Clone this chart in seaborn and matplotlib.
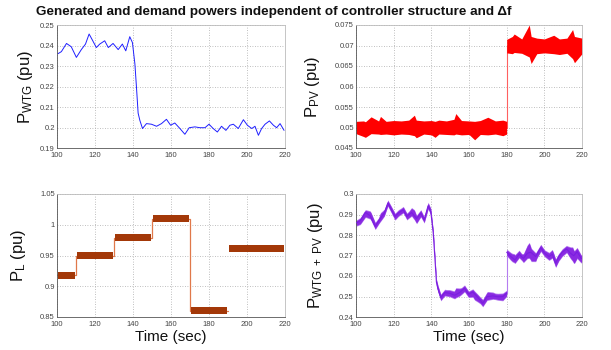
import numpy as np
import pandas as pd
import matplotlib
matplotlib.use("Agg")
import matplotlib.pyplot as plt
from matplotlib.ticker import FuncFormatter, MultipleLocator
import seaborn as sns

# ---------------- data ----------------
wtg_time = [100.5, 102.3, 105.0, 107.5, 110.2, 112.8, 115.0, 116.9, 118.6, 120.7,
            122.5, 125.1, 127.0, 129.5, 132.2, 134.4, 136.2, 138.3, 139.7, 141.0,
            141.8, 142.7, 143.6, 145.0, 147.1, 149.7, 152.4, 155.0, 157.6, 159.8,
            162.0, 164.7, 167.3, 169.6, 172.6, 175.2, 177.9, 180.0, 182.2, 184.4,
            186.6, 188.9, 191.0, 192.8, 195.4, 198.1, 200.2, 202.5, 204.2, 206.0,
            207.7, 209.5, 211.8, 213.9, 215.6, 217.4, 219.5]
wtg_power = [0.2360, 0.2370, 0.2410, 0.2394, 0.2342, 0.2380, 0.2407, 0.2456, 0.2427, 0.2390,
             0.2407, 0.2423, 0.2390, 0.2410, 0.2380, 0.2407, 0.2374, 0.2443, 0.2414, 0.2310,
             0.2200, 0.2070, 0.2035, 0.1995, 0.2019, 0.2016, 0.2006, 0.2019, 0.2040, 0.2011,
             0.2022, 0.1995, 0.1967, 0.1999, 0.2003, 0.1999, 0.1999, 0.2016, 0.1995, 0.1978,
             0.2006, 0.1986, 0.2011, 0.2016, 0.1995, 0.2038, 0.2011, 0.1995, 0.2006, 0.1962,
             0.1995, 0.2016, 0.2032, 0.2011, 0.1999, 0.2019, 0.1986]

# PV: two levels, noisy band envelopes
pv_low_time = [100, 104, 105, 108, 112, 113, 116, 120, 124, 128, 131, 132, 136, 140,
               142, 144, 148, 152, 153, 156, 160, 163, 166, 170, 174, 178, 180]
pv_low_hi = [0.0515, 0.0516, 0.0514, 0.0526, 0.0516, 0.0527, 0.0515, 0.0517, 0.0516, 0.0518,
             0.0530, 0.0518, 0.0516, 0.0517, 0.0515, 0.0518, 0.0516, 0.0520, 0.0534, 0.0517,
             0.0516, 0.0515, 0.0517, 0.0525, 0.0516, 0.0518, 0.0515]
pv_low_lo = [0.0485, 0.0478, 0.0476, 0.0485, 0.0484, 0.0483, 0.0484, 0.0482, 0.0484, 0.0483,
             0.0480, 0.0475, 0.0484, 0.0482, 0.0476, 0.0484, 0.0483, 0.0482, 0.0484, 0.0482,
             0.0483, 0.0470, 0.0483, 0.0482, 0.0484, 0.0480, 0.0484]
pv_high_time = [180, 183, 184, 188, 192, 193, 196, 200, 205, 208, 212, 215, 216, 220]
pv_high_hi = [0.0715, 0.0722, 0.0728, 0.0716, 0.0750, 0.0722, 0.0718, 0.0716, 0.0725, 0.0716,
              0.0718, 0.0739, 0.0722, 0.0718]
pv_high_lo = [0.0682, 0.0680, 0.0683, 0.0681, 0.0672, 0.0656, 0.0680, 0.0682, 0.0680, 0.0678,
              0.0681, 0.0668, 0.0658, 0.0680]
pv_level_time = [100, 180, 180, 220]
pv_level = [0.050, 0.050, 0.070, 0.070]

# Load steps
load_edges = [100, 110, 130, 150, 170, 190, 220]
load_levels = [0.918, 0.950, 0.979, 1.010, 0.860, 0.961]
load_band = 0.0055

# ---------------- style ----------------
sns.set_theme(style="white")
plt.rcParams["font.family"] = ["Liberation Sans", "DejaVu Sans"]
plt.rcParams["mathtext.fontset"] = "custom"
plt.rcParams["mathtext.rm"] = "Liberation Sans"
plt.rcParams["mathtext.it"] = "Liberation Sans"

fig = plt.figure(figsize=(6.11, 3.5), dpi=100)
W, H = 611.0, 350.0
def axes_px(l, t, r, b):
    return fig.add_axes([l / W, 1 - b / H, (r - l) / W, (b - t) / H])

ax_wtg = axes_px(57, 25, 285, 148)
ax_pv = axes_px(356, 25, 582, 148)
ax_load = axes_px(57, 194, 285, 317)
ax_sum = axes_px(356, 194, 582, 317)

fmt = FuncFormatter(lambda v, p: f"{v:g}")

def style(ax, ylo, yhi, ystep, ylabel, lx):
    ax.set_xlim(100, 220)
    ax.set_ylim(ylo, yhi)
    ax.xaxis.set_major_locator(MultipleLocator(20))
    ax.yaxis.set_major_locator(MultipleLocator(ystep))
    ax.yaxis.set_major_formatter(fmt)
    ax.grid(True, linestyle=(0, (1, 2)), color="#aaaaaa", linewidth=0.6)
    ax.tick_params(axis="both", which="major", labelsize=5.5, colors="#444444",
                   direction="in", length=2, width=0.5, pad=1.5)
    ax.tick_params(axis="x", pad=3)
    for s in ax.spines.values():
        s.set_color("#bbbbbb")
        s.set_linewidth(0.6)
    ax.spines["left"].set_color("#555555")
    ax.spines["bottom"].set_color("#555555")
    ax.set_ylabel(ylabel, fontsize=12, color="#111111")
    ax.yaxis.set_label_coords(lx, 0.5)
    ax.set_xlabel("")

# ---- WTG ----
sns.lineplot(x=wtg_time, y=wtg_power, ax=ax_wtg, color="#1f1fff", linewidth=0.7,
             sort=False, estimator=None)
style(ax_wtg, 0.19, 0.25, 0.01, r"P$_{\mathrm{WTG}}$ (pu)", -0.096)

# ---- PV ----
sns.lineplot(x=pv_level_time, y=pv_level, ax=ax_pv, color="#ff6060", linewidth=0.8,
             sort=False, estimator=None, zorder=1)
ax_pv.fill_between(pv_low_time, pv_low_lo, pv_low_hi, color="#ff0000", linewidth=0, zorder=2)
ax_pv.fill_between(pv_high_time, pv_high_lo, pv_high_hi, color="#ff0000", linewidth=0, zorder=2)
style(ax_pv, 0.045, 0.075, 0.005, r"P$_{\mathrm{PV}}$ (pu)", -0.15)

# ---- Load ----
sns.lineplot(x=load_edges[:5] + [190], y=load_levels[:5] + [load_levels[4]], ax=ax_load,
             color="#e0784a", linewidth=0.9, drawstyle="steps-post", sort=False,
             estimator=None, zorder=1)
for t0, t1, lv in zip(load_edges[:-1], load_edges[1:], load_levels):
    ax_load.fill_between([t0 + 0.3, t1 - 0.3], lv - load_band, lv + load_band,
                         color="#a33808", linewidth=0, zorder=3)
style(ax_load, 0.85, 1.05, 0.05, r"P$_{\mathrm{L}}$ (pu)", -0.127)
ax_load.set_xlabel("Time (sec)", fontsize=11, color="#111111", labelpad=1)

# ---- WTG + PV ----
wt = np.array(wtg_time)
wp = np.array(wtg_power)
jump = np.interp(180, wt, wp)
ax_sum.plot([180, 180], [jump + 0.05, jump + 0.07], color="#b57cf0", linewidth=0.8, zorder=1)
for pt, ph, pl, lvl in [(pv_low_time, pv_low_hi, pv_low_lo, 0.05),
                        (pv_high_time, pv_high_hi, pv_high_lo, 0.07)]:
    pt = np.array(pt, dtype=float)
    tt = np.unique(np.concatenate([pt, wt[(wt >= pt.min()) & (wt <= pt.max())]]))
    base = np.interp(tt, wt, wp)
    hi = base + np.interp(tt, pt, ph)
    lo = base + np.interp(tt, pt, pl)
    ax_sum.fill_between(tt, lo, hi, color="#b57cf0", linewidth=0, zorder=2)
    ax_sum.fill_between(tt, lo + 0.0004, hi - 0.0004, color="#8a2be2", linewidth=0, zorder=2)
    sns.lineplot(x=tt, y=base + lvl, ax=ax_sum, color="#7a1ee0", linewidth=0.8,
                 sort=False, estimator=None, zorder=3)
style(ax_sum, 0.24, 0.30, 0.01, r"P$_{\mathrm{WTG\ +\ PV}}$ (pu)", -0.137)
ax_sum.set_xlabel("Time (sec)", fontsize=11, color="#111111", labelpad=1)

fig.text(274 / W, 1 - 12 / H, "Generated and demand powers independent of controller structure and \u0394f",
         ha="center", va="center", fontsize=9.7, fontweight="bold", color="#111111")

fig.savefig("out.png", dpi=100)
